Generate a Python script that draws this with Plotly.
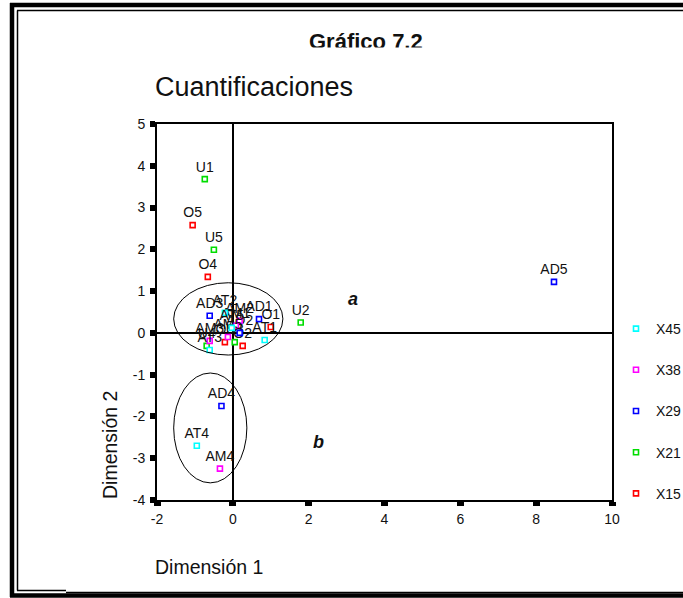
import plotly.graph_objects as go

# ---- data ----
series_names = ["X15", "X21", "X29", "X38", "X45"]
series_colors = ["#ff0000", "#00dd00", "#0000ff", "#ff00ff", "#00ffff"]
legend_ranks = [5, 4, 3, 2, 1]

x15_labels = ["O1", "O2", "O3", "O4", "O5"]
x15_x = [1.00, 0.26, -0.21, -0.66, -1.06]
x15_y = [0.14, -0.31, -0.22, 1.34, 2.58]

x21_labels = ["U1", "U2", "U3", "U4", "U5"]
x21_x = [-0.74, 1.79, 0.05, -0.69, -0.50]
x21_y = [3.68, 0.25, -0.22, -0.31, 1.99]

x29_labels = ["AD1", "AD2", "AD3", "AD4", "AD5"]
x29_x = [0.69, 0.18, -0.61, -0.30, 8.47]
x29_y = [0.33, 0.00, 0.41, -1.75, 1.22]

x38_labels = ["AM1", "AM2", "AM3", "AM4", "AM5"]
x38_x = [0.08, 0.18, -0.61, -0.34, -0.13]
x38_y = [0.17, 0.29, -0.19, -3.25, -0.10]

x45_labels = ["AT1", "AT2", "AT3", "AT4", "AT5"]
x45_x = [0.84, -0.21, -0.61, -0.95, -0.03]
x45_y = [-0.17, 0.48, -0.41, -2.70, 0.12]

x_ticks = [-2, 0, 2, 4, 6, 8, 10]
x_tick_labels = ["-2", "0", "2", "4", "6", "8", "10"]
y_ticks = [-4, -3, -2, -1, 0, 1, 2, 3, 4, 5]
y_tick_labels = ["-4", "-3", "-2", "-1", "0", "1", "2", "3", "4", "5"]

# ellipses (data coordinates: x0, x1, y0, y1)
ellipse_a = [-1.56, 1.32, -0.53, 1.20]
ellipse_b = [-1.56, 0.37, -3.59, -0.96]

FONT = "Liberation Sans, Arial, sans-serif"

W, H = 683, 598
ML, MR, MT, MB = 157, 71, 124, 98
PW, PH = W - ML - MR, H - MT - MB


def px(xp):
    return (xp - ML) / PW


def py(yp):
    return (H - MB - yp) / PH


fig = go.Figure()

all_series = [
    (x15_labels, x15_x, x15_y),
    (x21_labels, x21_x, x21_y),
    (x29_labels, x29_x, x29_y),
    (x38_labels, x38_x, x38_y),
    (x45_labels, x45_x, x45_y),
]

for name, color, rank, (labs, xs, ys) in zip(series_names, series_colors,
                                             legend_ranks, all_series):
    fig.add_trace(go.Scatter(
        x=xs, y=ys, text=labs, name=name, mode="markers+text",
        textposition="top center",
        textfont=dict(family=FONT, size=14, color="#111111"),
        marker=dict(symbol="square", size=5, color="white",
                    line=dict(color=color, width=1.6)),
        legendgroup=name, legendrank=rank, cliponaxis=False,
    ))

axis_common = dict(
    showgrid=False, showline=True, linecolor="black", linewidth=2,
    mirror=True, ticks="outside", tickcolor="black",
    tickfont=dict(family=FONT, size=14, color="#111111"),
    zeroline=True, zerolinecolor="black", zerolinewidth=2,
)

fig.update_xaxes(range=[-2, 10], tickvals=x_ticks, ticktext=x_tick_labels,
                 ticklen=4, tickwidth=7, ticklabelstandoff=1, **axis_common)
fig.update_yaxes(range=[-4, 5], tickvals=y_ticks, ticktext=y_tick_labels,
                 ticklen=5, tickwidth=6, ticklabelstandoff=2, **axis_common)

shapes = []
for e in (ellipse_a, ellipse_b):
    shapes.append(dict(type="circle", xref="x", yref="y",
                       x0=e[0], x1=e[1], y0=e[2], y1=e[3],
                       line=dict(color="black", width=1)))


def hline(y, x0, x1, w):
    return dict(type="line", xref="paper", yref="paper",
                x0=px(x0), x1=px(x1), y0=py(y), y1=py(y),
                line=dict(color="black", width=w), layer="above")


def vline(x, y0, y1, w):
    return dict(type="line", xref="paper", yref="paper",
                x0=px(x), x1=px(x), y0=py(y0), y1=py(y1),
                line=dict(color="black", width=w), layer="above")


shapes += [
    vline(12, 3, 597, 4.5),
    hline(5, 10, 700, 4.5),
    hline(595.5, 10, 700, 4.5),
    vline(17.5, 10.5, 590.5, 1.5),
    hline(10.5, 17, 700, 1.5),
    hline(590.5, 17, 66, 1.5),
    hline(592.5, 66, 700, 1.5),
]

annotations = [
    dict(text="<b>Gráfico 7.2</b>", x=px(366), y=py(41), xref="paper", yref="paper",
         showarrow=False, font=dict(family=FONT, size=22, color="#111111"),
         xanchor="center", yanchor="middle"),
    # white strip that trims the bottom of the title, as in the original
    dict(text=" ", x=px(366), y=py(47), xref="paper", yref="paper",
         showarrow=False, bgcolor="white", width=160, height=14,
         xanchor="center", yanchor="top", font=dict(size=8)),
    dict(text="Cuantificaciones", x=px(153), y=py(87), xref="paper", yref="paper",
         showarrow=False, font=dict(family=FONT, size=27, color="#111111"),
         xanchor="left", yanchor="middle"),
    dict(text="Dimensión 1", x=px(153), y=py(567), xref="paper", yref="paper",
         showarrow=False, font=dict(family=FONT, size=19.5, color="#111111"),
         xanchor="left", yanchor="middle"),
    dict(text="Dimensión 2", x=px(110), y=py(445), xref="paper", yref="paper",
         showarrow=False, font=dict(family=FONT, size=19.5, color="#111111"),
         textangle=-90, xanchor="center", yanchor="middle"),
    dict(text="<b><i>a</i></b>", x=3.17, y=0.81, xref="x", yref="y",
         showarrow=False, font=dict(family=FONT, size=18, color="#111111")),
    dict(text="<b><i>b</i></b>", x=2.27, y=-2.61, xref="x", yref="y",
         showarrow=False, font=dict(family=FONT, size=18, color="#111111")),
]

fig.update_layout(
    width=W, height=H,
    margin=dict(l=ML, r=MR, t=MT, b=MB, autoexpand=False),
    paper_bgcolor="white", plot_bgcolor="white",
    shapes=shapes, annotations=annotations,
    showlegend=True,
    legend=dict(x=px(616), xanchor="left", y=py(313), yanchor="top",
                traceorder="grouped", tracegroupgap=20,
                font=dict(family=FONT, size=14, color="#111111"),
                bgcolor="rgba(0,0,0,0)", itemwidth=30),
)

fig.write_html("out.html",
               config={"displayModeBar": False},
               post_script="document.body.style.margin='0px';"
                           "document.body.style.overflow='hidden';")
